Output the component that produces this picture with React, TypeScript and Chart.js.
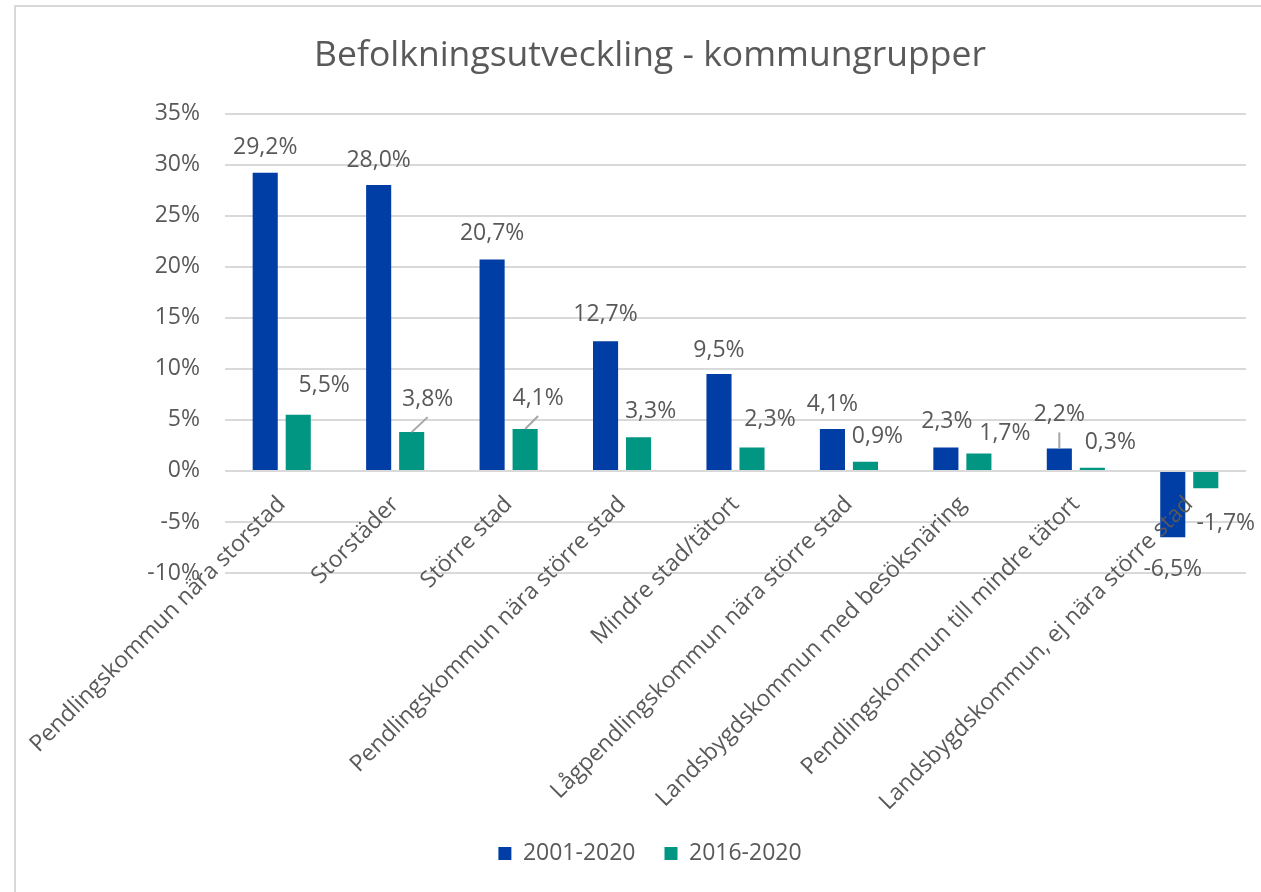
import React, { useEffect, useRef } from 'react';
import { Chart, registerables } from 'chart.js';

Chart.register(...registerables);

const title = 'Befolkningsutveckling - kommungrupper';
const categories = [
  'Pendlingskommun nära storstad',
  'Storstäder',
  'Större stad',
  'Pendlingskommun nära större stad',
  'Mindre stad/tätort',
  'Lågpendlingskommun nära större stad',
  'Landsbygdskommun med besöksnäring',
  'Pendlingskommun till mindre tätort',
  'Landsbygdskommun, ej nära större stad',
];
const seriesNames = ['2001-2020', '2016-2020'];
const values2001 = [29.2, 28.0, 20.7, 12.7, 9.5, 4.1, 2.3, 2.2, -6.5];
const values2016 = [5.5, 3.8, 4.1, 3.3, 2.3, 0.9, 1.7, 0.3, -1.7];
const yMin = -10;
const yMax = 35;
const yStep = 5;

// label nudges (pixels, relative to bar end)
const nudgeBlueX = [0, 0, 0, 0, 0, 0, 1, 0, 0];
const nudgeBlueY = [-25, -25, -26, -27, -23, -25, -26, -34, 32];
const nudgeTealX = [26, 16, 13, 12, 18, 12, 26, 18, 20];
const nudgeTealY = [-29, -33, -31, -26, -28, -25, -20, -25, 35];
const leaderBlue = [7];
const leaderTeal = [1, 2];

const FONT = "'Open Sans', sans-serif";
const TEXT = '#595959';
const BLUE = '#003DA5';
const TEAL = '#009682';

const fmt = (v: number) => v.toFixed(1).replace('.', ',') + '%';

const labelPlugin = {
  id: 'valueLabels',
  afterDatasetsDraw(chart: any) {
    const ctx = chart.ctx;
    ctx.save();
    ctx.font = `23px ${FONT}`;
    ctx.fillStyle = TEXT;
    ctx.textAlign = 'center';
    ctx.textBaseline = 'middle';
    chart.data.datasets.forEach((ds: any, di: number) => {
      const meta = chart.getDatasetMeta(di);
      const nx = di === 0 ? nudgeBlueX : nudgeTealX;
      const ny = di === 0 ? nudgeBlueY : nudgeTealY;
      const leaders = di === 0 ? leaderBlue : leaderTeal;
      meta.data.forEach((bar: any, i: number) => {
        const lx = bar.x + nx[i];
        const ly = bar.y + ny[i];
        if (leaders.includes(i)) {
          ctx.strokeStyle = '#a6a6a6';
          ctx.lineWidth = 2;
          ctx.beginPath();
          ctx.moveTo(bar.x, bar.y);
          ctx.lineTo(lx, ly + 18);
          ctx.stroke();
        }
        ctx.fillText(fmt(ds.data[i]), lx, ly);
      });
    });
    ctx.restore();
  },
};

export default function App() {
  const ref = useRef<HTMLCanvasElement>(null);
  useEffect(() => {
    const chart = new Chart(ref.current!, {
      type: 'bar',
      data: {
        labels: categories,
        datasets: [
          { label: seriesNames[0], data: values2001, backgroundColor: BLUE, categoryPercentage: 0.582, barPercentage: 0.76 },
          { label: seriesNames[1], data: values2016, backgroundColor: TEAL, categoryPercentage: 0.582, barPercentage: 0.76 },
        ],
      },
      options: {
        responsive: false,
        animation: false,
        layout: { padding: { left: 0, right: 0, top: 0, bottom: 17 } },
        plugins: {
          title: {
            display: true,
            text: title,
            color: TEXT,
            font: { family: FONT, size: 35.5, weight: 'normal' },
            padding: { top: 28, bottom: 36 },
          },
          legend: {
            position: 'bottom',
            labels: { boxWidth: 13, boxHeight: 13, color: TEXT, font: { family: FONT, size: 23 }, padding: 29 },
          },
          tooltip: { enabled: false },
        },
        scales: {
          x: {
            position: { y: 0 } as any,
            offset: true,
            grid: { display: false },
            border: { display: false },
            ticks: {
              color: TEXT,
              font: { family: FONT, size: 23 },
              minRotation: 45,
              maxRotation: 45,
              autoSkip: false,
              padding: 12,
              z: 1,
            },
            afterFit: (s: any) => { s.paddingLeft = 0; s.paddingRight = 0; },
          },
          xSpacer: {
            type: 'category',
            position: 'bottom',
            grid: { display: false },
            border: { display: false },
            ticks: { display: false },
            afterFit: (s: any) => { s.height = 240; },
          },
          y: {
            min: yMin,
            max: yMax,
            ticks: {
              stepSize: yStep,
              callback: (v: any) => v + '%',
              color: TEXT,
              font: { family: FONT, size: 23 },
              padding: 25,
            },
            grid: { color: '#d9d9d9', lineWidth: 2, drawTicks: false },
            border: { display: false },
            afterFit: (s: any) => { s.width = 209; },
          },
          ySpacer: {
            type: 'linear',
            position: 'right',
            grid: { display: false },
            border: { display: false },
            ticks: { display: false },
            afterFit: (s: any) => { s.width = 38; },
          },
        },
      } as any,
      plugins: [labelPlugin],
    });
    return () => chart.destroy();
  }, []);
  return (
    <div style={{ position: 'fixed', inset: 0, overflow: 'hidden', background: '#fff' }}>
      <div style={{ position: 'absolute', left: 14, top: 5, borderLeft: '2px solid #d9d9d9', borderTop: '2px solid #d9d9d9' }}>
        <canvas ref={ref} width={1268} height={885} style={{ display: 'block', width: 1268, height: 885 }} />
      </div>
    </div>
  );
}
